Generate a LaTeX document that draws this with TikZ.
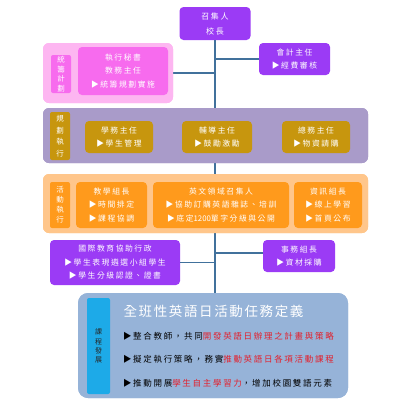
\documentclass[tikz,border=0pt]{standalone}
\usepackage{fontspec}
\setmainfont{Noto Sans CJK TC}
\newfontfamily\cjk[LetterSpace=20]{Noto Sans CJK TC}
\newfontfamily\cjkl[LetterSpace=20]{Noto Sans CJK TC}
\newfontfamily\cjkw[LetterSpace=12]{Noto Sans CJK TC}
\newfontfamily\cjkn{Noto Sans CJK TC}
\definecolor{spine}{HTML}{41719C}
\definecolor{violet}{HTML}{9B3BF5}
\definecolor{pinkout}{HTML}{FDB6F1}
\definecolor{pinkin}{HTML}{F76BEE}
\definecolor{lavout}{HTML}{A99BC9}
\definecolor{gold}{HTML}{C7960E}
\definecolor{orout}{HTML}{FFC68B}
\definecolor{orin}{HTML}{FF9A1C}
\definecolor{blueout}{HTML}{96B3D8}
\definecolor{bluelab}{HTML}{1DAAE8}
\definecolor{hl}{HTML}{E3202C}
\tikzset{
  every node/.style={inner sep=0pt, outer sep=0pt},
  grp/.style={rectangle, rounded corners=6pt, draw=none},
  box/.style={rectangle, rounded corners=4pt, draw=none, text=white, align=center,
    font=\cjk\fontsize{7.8}{13.5}\selectfont},
  lab/.style={rectangle, rounded corners=2pt, draw=none, text=white, align=center,
    font=\cjkw\fontsize{7.5}{10}\selectfont},
  conn/.style={draw=spine, line width=1.1pt},
  body/.style={anchor=west, font=\cjkl\fontsize{8.5}{10}\selectfont},
}
\begin{document}
\begin{tikzpicture}[x=1pt,y=-1pt]
\useasboundingbox (0,0) rectangle (410,410);
% nodes
\node[box, fill=violet, minimum width=71, minimum height=33, font=\cjk\fontsize{8}{15}\selectfont] (top) at (215,23.5) {召集人\\校長};
\node[box, fill=violet, minimum width=71, minimum height=32] (acc) at (294.5,59) {會計主任\\▶經費審核};
\node[box, fill=violet, minimum width=130, minimum height=45] (intl) at (115,262.5) {國際教育協助行政\\▶學生表現遴選小組學生\\▶學生分級認證、證書};
\node[box, fill=violet, minimum width=72, minimum height=32] (aff) at (299,256) {事務組長\\▶資材採購};
\node[grp, fill=pinkout, minimum width=130, minimum height=60] (g1) at (108,73) {};
\node[grp, fill=lavout, minimum width=325, minimum height=55] (g2) at (205.5,135.5) {};
\node[grp, fill=orout, minimum width=325, minimum height=59] (g3) at (205.5,203.5) {};
\node[grp, rounded corners=10pt, fill=blueout, minimum width=270, minimum height=105] (g5) at (213,345.5) {};
% connectors
\draw[conn] (top.south) -- (top.south |- g5.north);
\draw[conn] (g1.east) -- (g1.east -| top.south);
\draw[conn] (acc.west) -- (acc.west -| top.south);
\draw[conn] (intl.east) -- (intl.east -| top.south);
\draw[conn] ([yshift=3pt]aff.west) -- ([yshift=3pt]aff.west -| top.south);
% redraw groups on top of spine
\node[grp, fill=pinkout, minimum width=130, minimum height=60] at (g1) {};
\node[grp, fill=lavout, minimum width=325, minimum height=55] at (g2) {};
\node[grp, fill=orout, minimum width=325, minimum height=59] at (g3) {};
\node[grp, rounded corners=10pt, fill=blueout, minimum width=270, minimum height=105] at (g5) {};
% group 1
\node[lab, fill=pinkin, minimum width=20, minimum height=38, font=\cjkw\fontsize{7.5}{9.5}\selectfont] (l1) at (61,74) {統\\籌\\計\\劃};
\node[box, fill=pinkin, minimum width=90, minimum height=48] (sec) at (123,71) {執行秘書\\教務主任\\▶統籌規劃實施};
% group 2
\node[lab, fill=gold, minimum width=20, minimum height=48, font=\cjkw\fontsize{7.5}{11.5}\selectfont] (l2) at (60,136) {規\\劃\\執\\行};
\node[box, fill=gold, minimum width=68, minimum height=32] (stu) at (119,137) {學務主任\\▶學生管理};
\node[box, fill=gold, minimum width=70, minimum height=32] (cou) at (217,137) {輔導主任\\▶鼓勵激勵};
\node[box, fill=gold, minimum width=68, minimum height=32] (gen) at (316,137) {總務主任\\▶物資請購};
% group 3
\node[lab, fill=orin, minimum width=20, minimum height=46] (l3) at (60,205) {活\\動\\執\\行};
\node[box, fill=orin, minimum width=71, minimum height=46] (tea) at (111.5,205) {教學組長\\▶時間排定\\▶課程協調};
\node[box, fill=orin, minimum width=136, minimum height=46] (eng) at (221,205) {英文領域召集人\\▶協助訂購英語雜誌、培訓\\▶底定{\cjkn 1200}單字分級與公開};
\node[box, fill=orin, minimum width=68, minimum height=46] (inf) at (328,205) {資訊組長\\▶線上學習\\▶首頁公布};
% group 5
\node[lab, fill=bluelab, minimum width=23, minimum height=96, text=black!85, font=\cjkw\fontsize{7}{9.2}\selectfont] (l5) at (98.5,346) {課\\程\\發\\展};
\node[text=white, font=\cjkw\fontsize{13.5}{14}\selectfont] (title) at (213.5,311) {全班性英語日活動任務定義};
\node[body] (t1) at (123,336) {▶整合教師，共同\textcolor{hl}{開發英語日辦理之計畫與策略}};
\node[body] (t2) at (123,359) {▶擬定執行策略，務實\textcolor{hl}{推動英語日各項活動課程}};
\node[body] (t3) at (123,383) {▶推動開展\textcolor{hl}{學生自主學習力}，增加校園雙語元素};
\end{tikzpicture}
\end{document}
